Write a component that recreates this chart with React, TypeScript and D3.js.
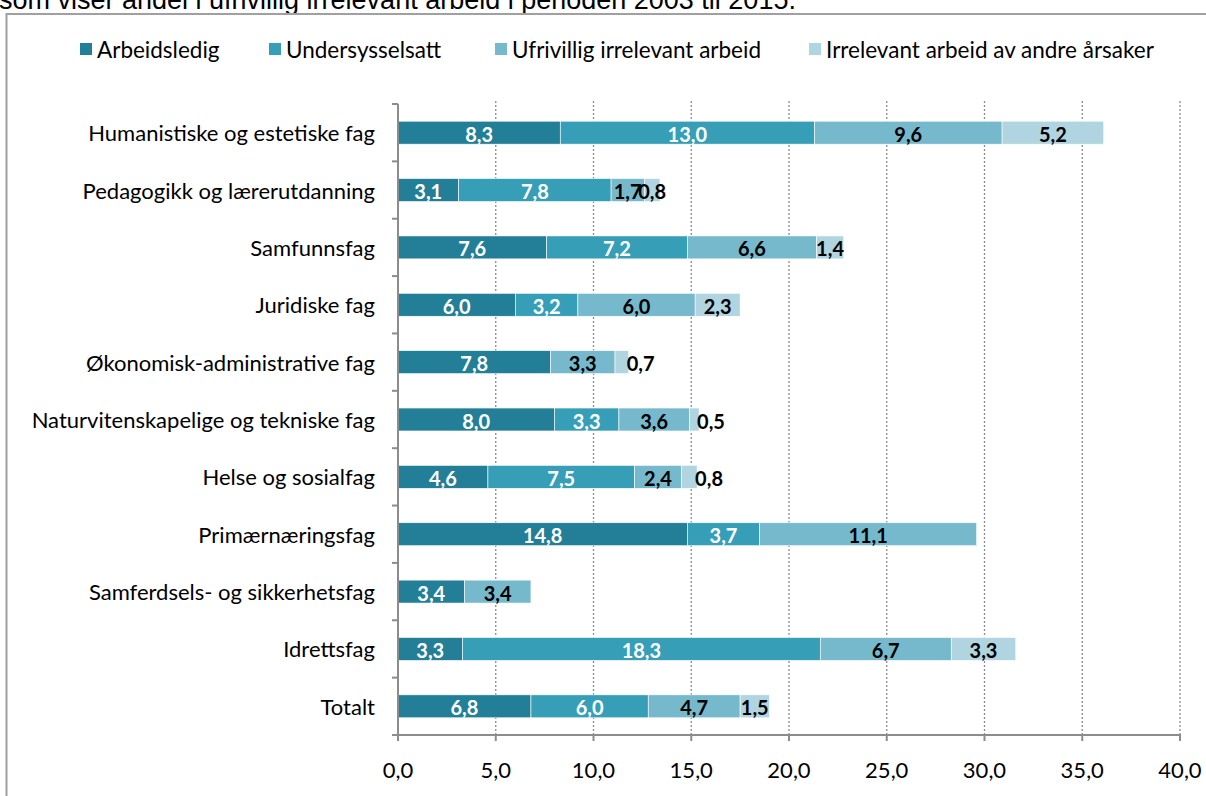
import React from "react";
import * as d3 from "d3";

const categories = [
  "Humanistiske og estetiske fag",
  "Pedagogikk og lærerutdanning",
  "Samfunnsfag",
  "Juridiske fag",
  "Økonomisk-administrative fag",
  "Naturvitenskapelige og tekniske fag",
  "Helse og sosialfag",
  "Primærnæringsfag",
  "Samferdsels- og sikkerhetsfag",
  "Idrettsfag",
  "Totalt",
];
const seriesNames = [
  "Arbeidsledig",
  "Undersysselsatt",
  "Ufrivillig irrelevant arbeid",
  "Irrelevant arbeid av andre årsaker",
];
const arbeidsledig = [8.3, 3.1, 7.6, 6.0, 7.8, 8.0, 4.6, 14.8, 3.4, 3.3, 6.8];
const undersysselsatt = [13.0, 7.8, 7.2, 3.2, 0, 3.3, 7.5, 3.7, 0, 18.3, 6.0];
const ufrivillig = [9.6, 1.7, 6.6, 6.0, 3.3, 3.6, 2.4, 11.1, 3.4, 6.7, 4.7];
const irrelevantAndre = [5.2, 0.8, 1.4, 2.3, 0.7, 0.5, 0.8, 0, 0, 3.3, 1.5];
const xTicks = [0, 5, 10, 15, 20, 25, 30, 35, 40];
const outsideLabelCats = [
  "Økonomisk-administrative fag",
  "Naturvitenskapelige og tekniske fag",
  "Helse og sosialfag",
];
const titleText =
  "som viser andel i ufrivillig irrelevant arbeid i perioden 2003 til 2015.";

const colors = ["#237F97", "#369FB7", "#76B9CC", "#B0D4E0"];
const labelColors = ["#FFFFFF", "#FFFFFF", "#000000", "#000000"];
const legendX = [80, 269, 495, 809];

const fmt = (v: number) => d3.format(".1f")(v).replace(".", ",");
const FONT = "Lato, 'Open Sans', sans-serif";

export default function App() {
  const W = 1206;
  const H = 796;
  const x = d3.scaleLinear().domain([0, 40]).range([398, 1180]);
  const y = d3
    .scaleBand<string>()
    .domain(categories)
    .range([104, 735])
    .paddingInner(0.6)
    .paddingOuter(0.3);

  const rows = categories.map((c, i) => ({
    cat: c,
    s0: arbeidsledig[i],
    s1: undersysselsatt[i],
    s2: ufrivillig[i],
    s3: irrelevantAndre[i],
  }));
  const stack = d3.stack<any>().keys(["s0", "s1", "s2", "s3"]);
  const layers = stack(rows);

  const step = y.step();
  const tickYs = d3.range(categories.length + 1).map((k) => 104 + k * step);

  return (
    <svg
      width={W}
      height={H}
      style={{ position: "fixed", left: 0, top: 0, background: "#fff" }}
    >
      <rect x={0} y={0} width={W} height={H} fill="#fff" />
      <text
        x={-1}
        y={9}
        fontFamily="'Liberation Sans', Arial, sans-serif"
        fontSize={27}
        fill="#000"
      >
        {titleText}
      </text>
      {/* frame */}
      <rect
        x={6.5}
        y={14}
        width={W + 10}
        height={H + 10}
        fill="none"
        stroke="#A0A0A0"
        strokeWidth={2}
      />
      {/* legend */}
      {seriesNames.map((n, i) => (
        <g key={n}>
          <rect x={legendX[i]} y={43} width={12} height={12} fill={colors[i]} />
          <text
            x={legendX[i] + 17}
            y={49}
            dominantBaseline="central"
            fontFamily={FONT}
            fontSize={22.5}
            fill="#000"
          >
            {n}
          </text>
        </g>
      ))}
      {/* grid */}
      {xTicks.slice(1).map((t) => (
        <line
          key={t}
          x1={x(t)}
          x2={x(t)}
          y1={101}
          y2={735}
          stroke="#8C8C8C"
          strokeWidth={1.3}
          strokeDasharray="2,2"
        />
      ))}
      {/* bars */}
      {layers.map((layer, li) => (
        <g key={li}>
          {layer.map((d, i) => {
            const v = d[1] - d[0];
            if (v <= 0) return null;
            const cat = categories[i];
            const x0 = x(d[0]);
            const x1 = x(d[1]);
            const yy = y(cat)!;
            const bw = y.bandwidth();
            const outside = li === 3 && outsideLabelCats.includes(cat);
            return (
              <g key={i}>
                <rect
                  x={x0}
                  y={yy}
                  width={x1 - x0}
                  height={bw}
                  fill={colors[li]}
                  stroke="#fff"
                  strokeWidth={0.6}
                />
                <text
                  x={outside ? x1 - 2 : (x0 + x1) / 2}
                  y={yy + bw / 2 + 1}
                  textAnchor={outside ? "start" : "middle"}
                  dominantBaseline="central"
                  fontFamily={FONT}
                  fontWeight="bold"
                  fontSize={20}
                  fill={labelColors[li]}
                >
                  {fmt(v)}
                </text>
              </g>
            );
          })}
        </g>
      ))}
      {/* y axis */}
      <line x1={398} x2={398} y1={104} y2={736} stroke="#8C8C8C" strokeWidth={2} />
      {tickYs.map((ty, k) => (
        <line key={k} x1={392} x2={398} y1={ty} y2={ty} stroke="#8C8C8C" strokeWidth={2} />
      ))}
      {categories.map((c) => (
        <text
          key={c}
          x={375}
          y={y(c)! + y.bandwidth() / 2}
          textAnchor="end"
          dominantBaseline="central"
          fontFamily={FONT}
          fontSize={22}
          fill="#000"
        >
          {c}
        </text>
      ))}
      {/* x axis */}
      <line x1={397} x2={1181} y1={735} y2={735} stroke="#8C8C8C" strokeWidth={2} />
      {xTicks.map((t) => (
        <g key={t}>
          <line x1={x(t)} x2={x(t)} y1={735} y2={741} stroke="#8C8C8C" strokeWidth={2} />
          <text
            x={x(t)}
            y={769}
            textAnchor="middle"
            dominantBaseline="central"
            fontFamily={FONT}
            fontSize={22}
            fill="#000"
          >
            {fmt(t)}
          </text>
        </g>
      ))}
    </svg>
  );
}
